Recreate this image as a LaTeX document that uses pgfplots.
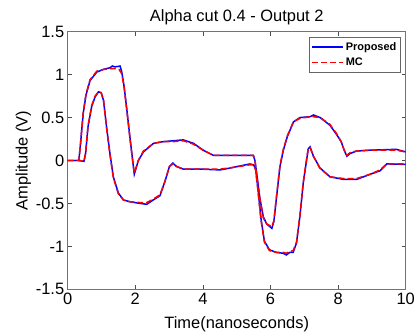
\documentclass[border=0pt]{standalone}
\usepackage{pgfplots}
\pgfplotsset{compat=1.18}
\usepackage{fontspec}
\setmainfont{Liberation Sans}
\definecolor{mblue}{rgb}{0,0,1}
\definecolor{mred}{rgb}{1,0,0}
\begin{document}
\begin{tikzpicture}
\path[use as bounding box] (-67.7bp,-45.7bp) rectangle (349.3bp,289.3bp);
\begin{axis}[
  at={(0,0)}, anchor=south west,
  width=338bp, height=257.6bp, scale only axis,
  xmin=0, xmax=10, ymin=-1.5, ymax=1.5,
  xtick={0,2,...,10}, ytick={-1.5,-1,...,1.5},
  yticklabels={-1.5,-1,-0.5,0,0.5,1,1.5},
  tick align=inside, tick pos=both,
  major tick length=4bp,
  axis line style={black!55, line width=0.6pt},
  tick style={black!70, line width=0.5pt},
  /pgf/number format/assume math mode=true,
  ticklabel style={font=\fontsize{16.5}{19}\selectfont},
  xticklabel style={yshift=0bp},
  title={Alpha cut 0.4 - Output 2},
  title style={font=\fontsize{16.5}{19}\selectfont, yshift=-3bp},
  xlabel={Time(nanoseconds)},
  ylabel={Amplitude (V)},
  label style={font=\fontsize{16.5}{19}\selectfont},
  xlabel style={yshift=-5bp},
  ylabel style={yshift=-2bp},
  legend style={at={(0.985,0.98)}, anchor=north east, draw=black!60, line width=0.6pt,
    font=\fontsize{11}{13}\selectfont, text=black, fill=white, inner xsep=2bp, inner ysep=3bp, row sep=2.5bp,
    legend cell align=left},
  legend image code/.code={\draw[#1] (0cm,0cm) -- (1.1cm,0cm);},
]
\addlegendimage{color=mblue, draw=mblue, line width=1.5pt}
\addlegendentry{\textbf{Proposed}}
\addlegendimage{color=mred, draw=mred, line width=1.5pt, dash pattern=on 6bp off 3bp}
\addlegendentry{\textbf{MC}}
% Proposed (blue), upper envelope
\addplot[mblue, line width=1.5pt, forget plot] coordinates {
(0,0) (0.33,0) (0.38,0.2) (0.46,0.55) (0.54,0.76) (0.66,0.93) (0.86,1.03) (1.05,1.06) (1.25,1.08) (1.32,1.10) (1.40,1.09) (1.55,1.10) (1.60,1.03) (1.67,0.86) (1.75,0.59) (1.85,0.24) (1.97,-0.16) (2.09,0.0) (2.24,0.10) (2.54,0.20) (2.83,0.22) (3.13,0.23) (3.42,0.24) (3.72,0.20) (4.01,0.12) (4.31,0.06) (5.49,0.06) (5.54,0.0) (5.59,-0.15) (5.69,-0.45) (5.79,-0.66) (5.89,-0.74) (6.04,-0.79) (6.10,-0.71) (6.18,-0.42) (6.28,-0.07) (6.38,0.12) (6.50,0.28) (6.68,0.45) (6.87,0.50) (7.17,0.51) (7.27,0.53) (7.47,0.50) (7.76,0.41) (7.96,0.30) (8.09,0.22) (8.18,0.12) (8.26,0.05) (8.35,0.08) (8.54,0.11) (8.93,0.12) (9.72,0.13) (10,0.10)};
% Proposed (blue), lower envelope
\addplot[mblue, line width=1.5pt, forget plot] coordinates {
(0,0) (0.34,0) (0.48,-0.01) (0.53,0.08) (0.60,0.39) (0.71,0.63) (0.81,0.74) (0.91,0.80) (0.99,0.79) (1.06,0.70) (1.15,0.39) (1.25,0.08) (1.35,-0.19) (1.50,-0.38) (1.65,-0.46) (1.84,-0.48) (2.14,-0.50) (2.34,-0.51) (2.53,-0.46) (2.73,-0.41) (2.88,-0.24) (3.01,-0.07) (3.11,-0.03) (3.22,-0.07) (3.42,-0.10) (3.92,-0.10) (4.51,-0.11) (4.90,-0.08) (5.39,-0.04) (5.50,-0.05) (5.56,-0.10) (5.62,-0.30) (5.72,-0.68) (5.82,-0.94) (5.97,-1.04) (6.17,-1.07) (6.37,-1.08) (6.47,-1.10) (6.57,-1.07) (6.67,-1.07) (6.77,-0.96) (6.87,-0.65) (6.97,-0.26) (7.07,0.01) (7.12,0.14) (7.17,0.16) (7.27,0.05) (7.46,-0.085) (7.76,-0.19) (8.16,-0.22) (8.55,-0.22) (8.95,-0.16) (9.24,-0.12) (9.44,-0.04) (10,-0.045)};
% MC (red dashed), upper envelope
\addplot[mred, line width=1.5pt, dash pattern=on 6bp off 3bp, forget plot] coordinates {
(0,0) (0.33,0) (0.38,0.2) (0.46,0.56) (0.54,0.77) (0.66,0.94) (0.86,1.04) (1.05,1.06) (1.25,1.07) (1.40,1.07) (1.52,1.06) (1.60,1.01) (1.67,0.85) (1.75,0.58) (1.85,0.23) (1.97,-0.15) (2.09,0.0) (2.24,0.11) (2.54,0.20) (2.83,0.22) (3.13,0.22) (3.42,0.23) (3.72,0.19) (4.01,0.12) (4.31,0.06) (5.49,0.06) (5.54,0.0) (5.59,-0.16) (5.69,-0.46) (5.79,-0.67) (5.89,-0.74) (6.04,-0.77) (6.10,-0.70) (6.18,-0.41) (6.28,-0.06) (6.38,0.13) (6.50,0.29) (6.68,0.45) (6.87,0.49) (7.17,0.51) (7.27,0.51) (7.47,0.50) (7.76,0.42) (7.96,0.31) (8.09,0.22) (8.18,0.12) (8.26,0.06) (8.35,0.09) (8.54,0.11) (8.93,0.12) (9.72,0.12) (10,0.10)};
% MC (red dashed), lower envelope
\addplot[mred, line width=1.5pt, dash pattern=on 6bp off 3bp, forget plot] coordinates {
(0,0) (0.34,0) (0.48,-0.01) (0.53,0.09) (0.60,0.40) (0.71,0.64) (0.81,0.75) (0.91,0.80) (0.99,0.79) (1.06,0.70) (1.15,0.38) (1.25,0.07) (1.35,-0.20) (1.50,-0.39) (1.65,-0.46) (1.84,-0.48) (2.14,-0.49) (2.34,-0.49) (2.53,-0.45) (2.73,-0.40) (2.88,-0.24) (3.01,-0.07) (3.11,-0.04) (3.22,-0.07) (3.42,-0.10) (3.92,-0.10) (4.51,-0.10) (4.90,-0.08) (5.39,-0.05) (5.50,-0.05) (5.56,-0.11) (5.62,-0.32) (5.72,-0.70) (5.82,-0.95) (5.97,-1.05) (6.17,-1.07) (6.37,-1.07) (6.47,-1.08) (6.57,-1.06) (6.67,-1.05) (6.77,-0.95) (6.87,-0.64) (6.97,-0.25) (7.07,0.02) (7.12,0.15) (7.17,0.15) (7.27,0.05) (7.46,-0.09) (7.76,-0.19) (8.16,-0.21) (8.55,-0.21) (8.95,-0.16) (9.24,-0.11) (9.44,-0.04) (10,-0.04)};
\end{axis}
\end{tikzpicture}
\end{document}
